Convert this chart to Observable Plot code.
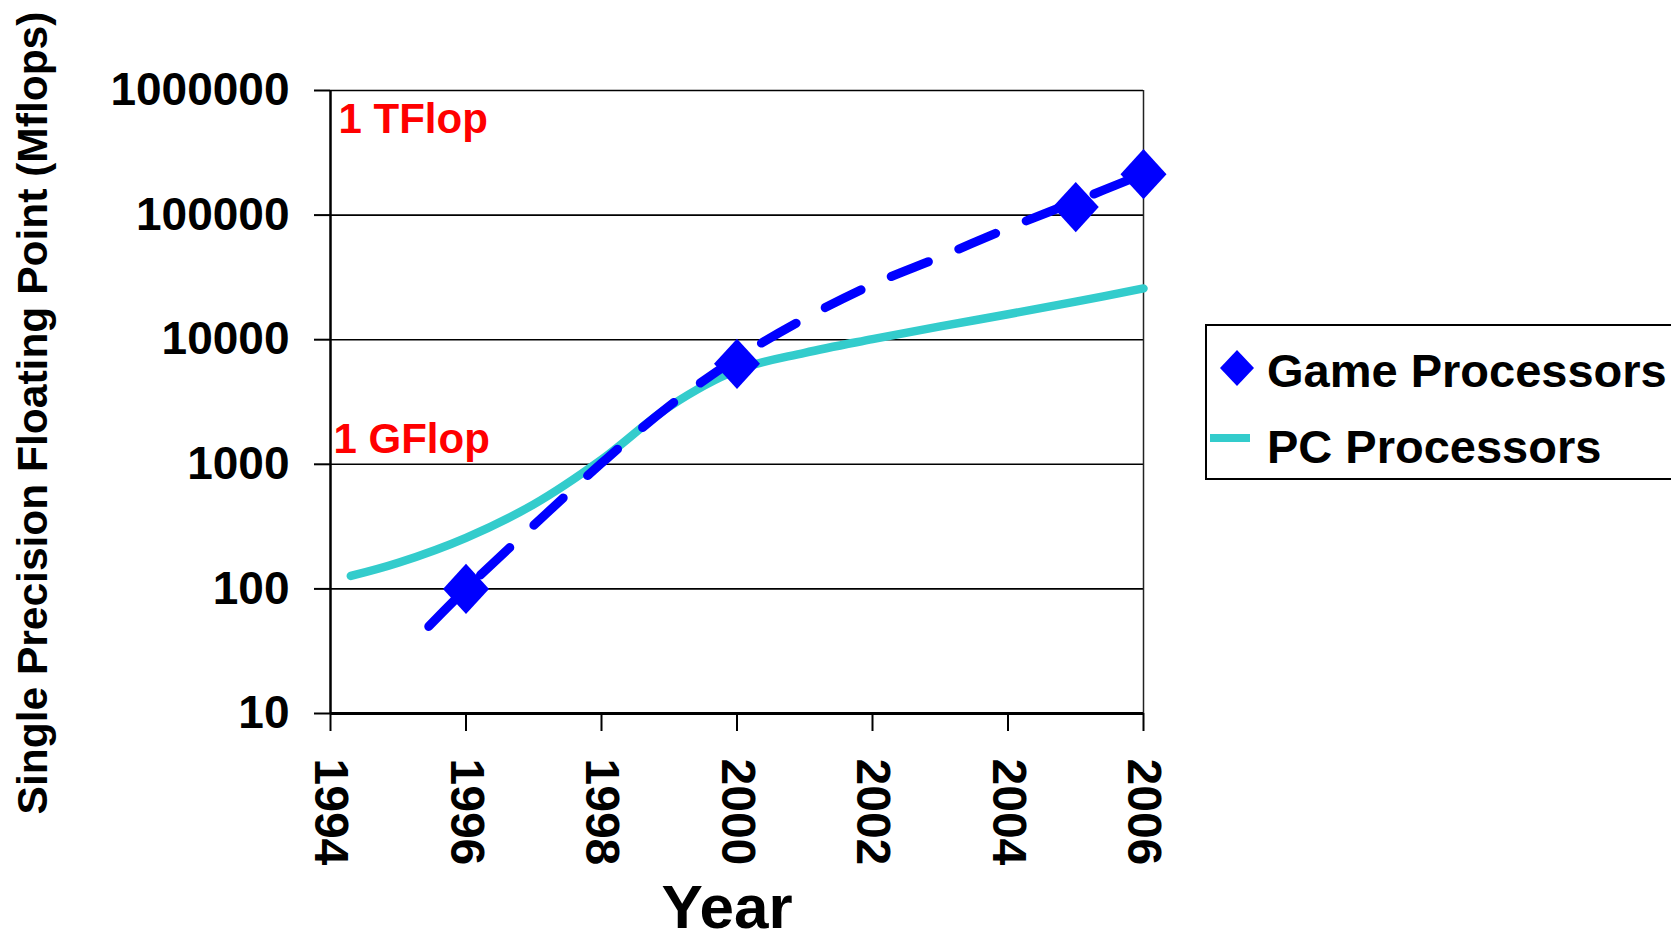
<!DOCTYPE html>
<html>
<head>
<meta charset="utf-8">
<script src="https://cdn.jsdelivr.net/npm/d3@7"></script>
<script src="https://cdn.jsdelivr.net/npm/@observablehq/plot@0.6"></script>
<style>
  html, body { margin: 0; padding: 0; background: #fff; overflow: hidden; }
  #chart { position: relative; width: 1671px; height: 940px; }
  #legend { position: absolute; left: 1205px; top: 324px; }
</style>
</head>
<body>
<div id="chart"><div id="legend"></div></div>
<script>
// ---- data ----
const gameYears = [1996, 2000, 2005, 2006];
const gameMflops = [100, 6400, 116000, 213000];

// dashed trend drawn through the game processor points
const trendYears = [1995.45, 1996, 1997, 1998, 1999, 2000, 2001, 2002, 2003, 2004, 2005, 2006];
const trendMflops = [50, 100, 324, 1020, 2940, 7100, 14800, 27700, 46200, 78500, 129000, 214000];

const pcYears = [1994.3, 1995, 1996, 1997, 1998, 1999, 2000, 2001, 2002, 2003, 2004, 2005, 2006];
const pcMflops = [127, 162, 257, 477, 1090, 2900, 5700, 7850, 10100, 12800, 16000, 20200, 25800];

const seriesNames = ["Game Processors", "PC Processors"];
const seriesColors = ["#0000ff", "#33cccc"];

const xTicks = [1994, 1996, 1998, 2000, 2002, 2004, 2006];
const yTicks = [10, 100, 1000, 10000, 100000, 1000000];

const annotTop = ["1 TFlop"];
const annotTopValue = [1000000];
const annotMid = ["1 GFlop"];
const annotMidValue = [1000];

const xLabel = "Year";
const yLabel = "Single Precision Floating Point (Mflops)";

// ---- tables ----
const game = gameYears.map((x, i) => ({x, y: gameMflops[i]}));
const trend = trendYears.map((x, i) => ({x, y: trendMflops[i]}));
const pc = pcYears.map((x, i) => ({x, y: pcMflops[i]}));

const FONT = '"Liberation Sans", Arial, Helvetica, sans-serif';

const diamondSymbol = {
  draw(ctx, size) {
    const r = Math.sqrt(size / Math.PI);
    ctx.moveTo(0, -r * 1.09);
    ctx.lineTo(r, 0);
    ctx.lineTo(0, r * 1.09);
    ctx.lineTo(-r, 0);
    ctx.closePath();
  }
};

const plot = Plot.plot({
  width: 1671,
  height: 940,
  marginLeft: 330,
  marginRight: 528,
  marginTop: 90,
  marginBottom: 227,
  style: {fontFamily: FONT, fontWeight: "bold", fontSize: "46px", color: "#000", background: "transparent"},
  x: {domain: [1994, 2006], label: null},
  y: {type: "log", domain: [10, 1000000], label: null},
  marks: [
    Plot.ruleY(yTicks, {stroke: "#000", strokeWidth: 1.6}),
    Plot.ruleX([2006], {y1: 10, y2: 1000000, stroke: "#222", strokeWidth: 1.5}),
    Plot.axisY({ticks: yTicks, tickFormat: d3.format("d"), tickSize: 16, tickPadding: 25, strokeWidth: 2, fontSize: 46, fontWeight: "bold", label: null}),
    Plot.axisX({ticks: xTicks, tickFormat: d => String(d), tickSize: 18, tickPadding: 27, tickRotate: 90, strokeWidth: 2, fontSize: 48, fontWeight: "bold", label: null}),
    Plot.ruleX([1994], {y1: 10, y2: 1000000, stroke: "#000", strokeWidth: 2.5}),
    Plot.ruleY([10], {stroke: "#000", strokeWidth: 3}),
    Plot.line(pc, {x: "x", y: "y", stroke: seriesColors[1], strokeWidth: 8.5, curve: "catmull-rom"}),
    Plot.line(trend, {x: "x", y: "y", stroke: seriesColors[0], strokeWidth: 9, strokeDasharray: "40,33", curve: "catmull-rom"}),
    Plot.dot(game, {x: "x", y: "y", symbol: diamondSymbol, r: 23, fill: seriesColors[0], stroke: "none"}),
    Plot.text(annotTop, {x: () => 1994, y: annotTopValue, dx: 8, dy: 42, textAnchor: "start", lineAnchor: "bottom", fill: "#ff0000", fontSize: 42, fontWeight: "bold"}),
    Plot.text(annotMid, {x: () => 1994, y: annotMidValue, dx: 3, dy: -11, textAnchor: "start", lineAnchor: "bottom", fill: "#ff0000", fontSize: 42, fontWeight: "bold"}),
    Plot.text([xLabel], {frameAnchor: "bottom", textAnchor: "middle", dx: -10, dy: 214, lineAnchor: "bottom", fontSize: 62, fontWeight: "bold", fill: "#000"}),
    Plot.text([yLabel], {frameAnchor: "left", textAnchor: "middle", rotate: -90, dx: -284, dy: 11, lineAnchor: "bottom", fontSize: 42.5, fontWeight: "bold", fill: "#000"})
  ]
});
document.getElementById("chart").prepend(plot);

// ---- legend ----
const lg = d3.select("#legend").append("svg")
  .attr("width", 480).attr("height", 156)
  .style("font-family", FONT).style("font-weight", "bold");
lg.append("rect").attr("x", 1).attr("y", 1).attr("width", 520).attr("height", 154)
  .attr("fill", "#fff").attr("stroke", "#000").attr("stroke-width", 2);
lg.append("path").attr("d", "M32,26 L49,44 L32,62 L15,44 Z").attr("fill", seriesColors[0]);
lg.append("line").attr("x1", 5).attr("x2", 45).attr("y1", 114).attr("y2", 114)
  .attr("stroke", seriesColors[1]).attr("stroke-width", 8);
lg.append("text").attr("x", 62).attr("y", 63).attr("font-size", 47).text(seriesNames[0]);
lg.append("text").attr("x", 62).attr("y", 139).attr("font-size", 47).text(seriesNames[1]);
</script>
</body>
</html>
